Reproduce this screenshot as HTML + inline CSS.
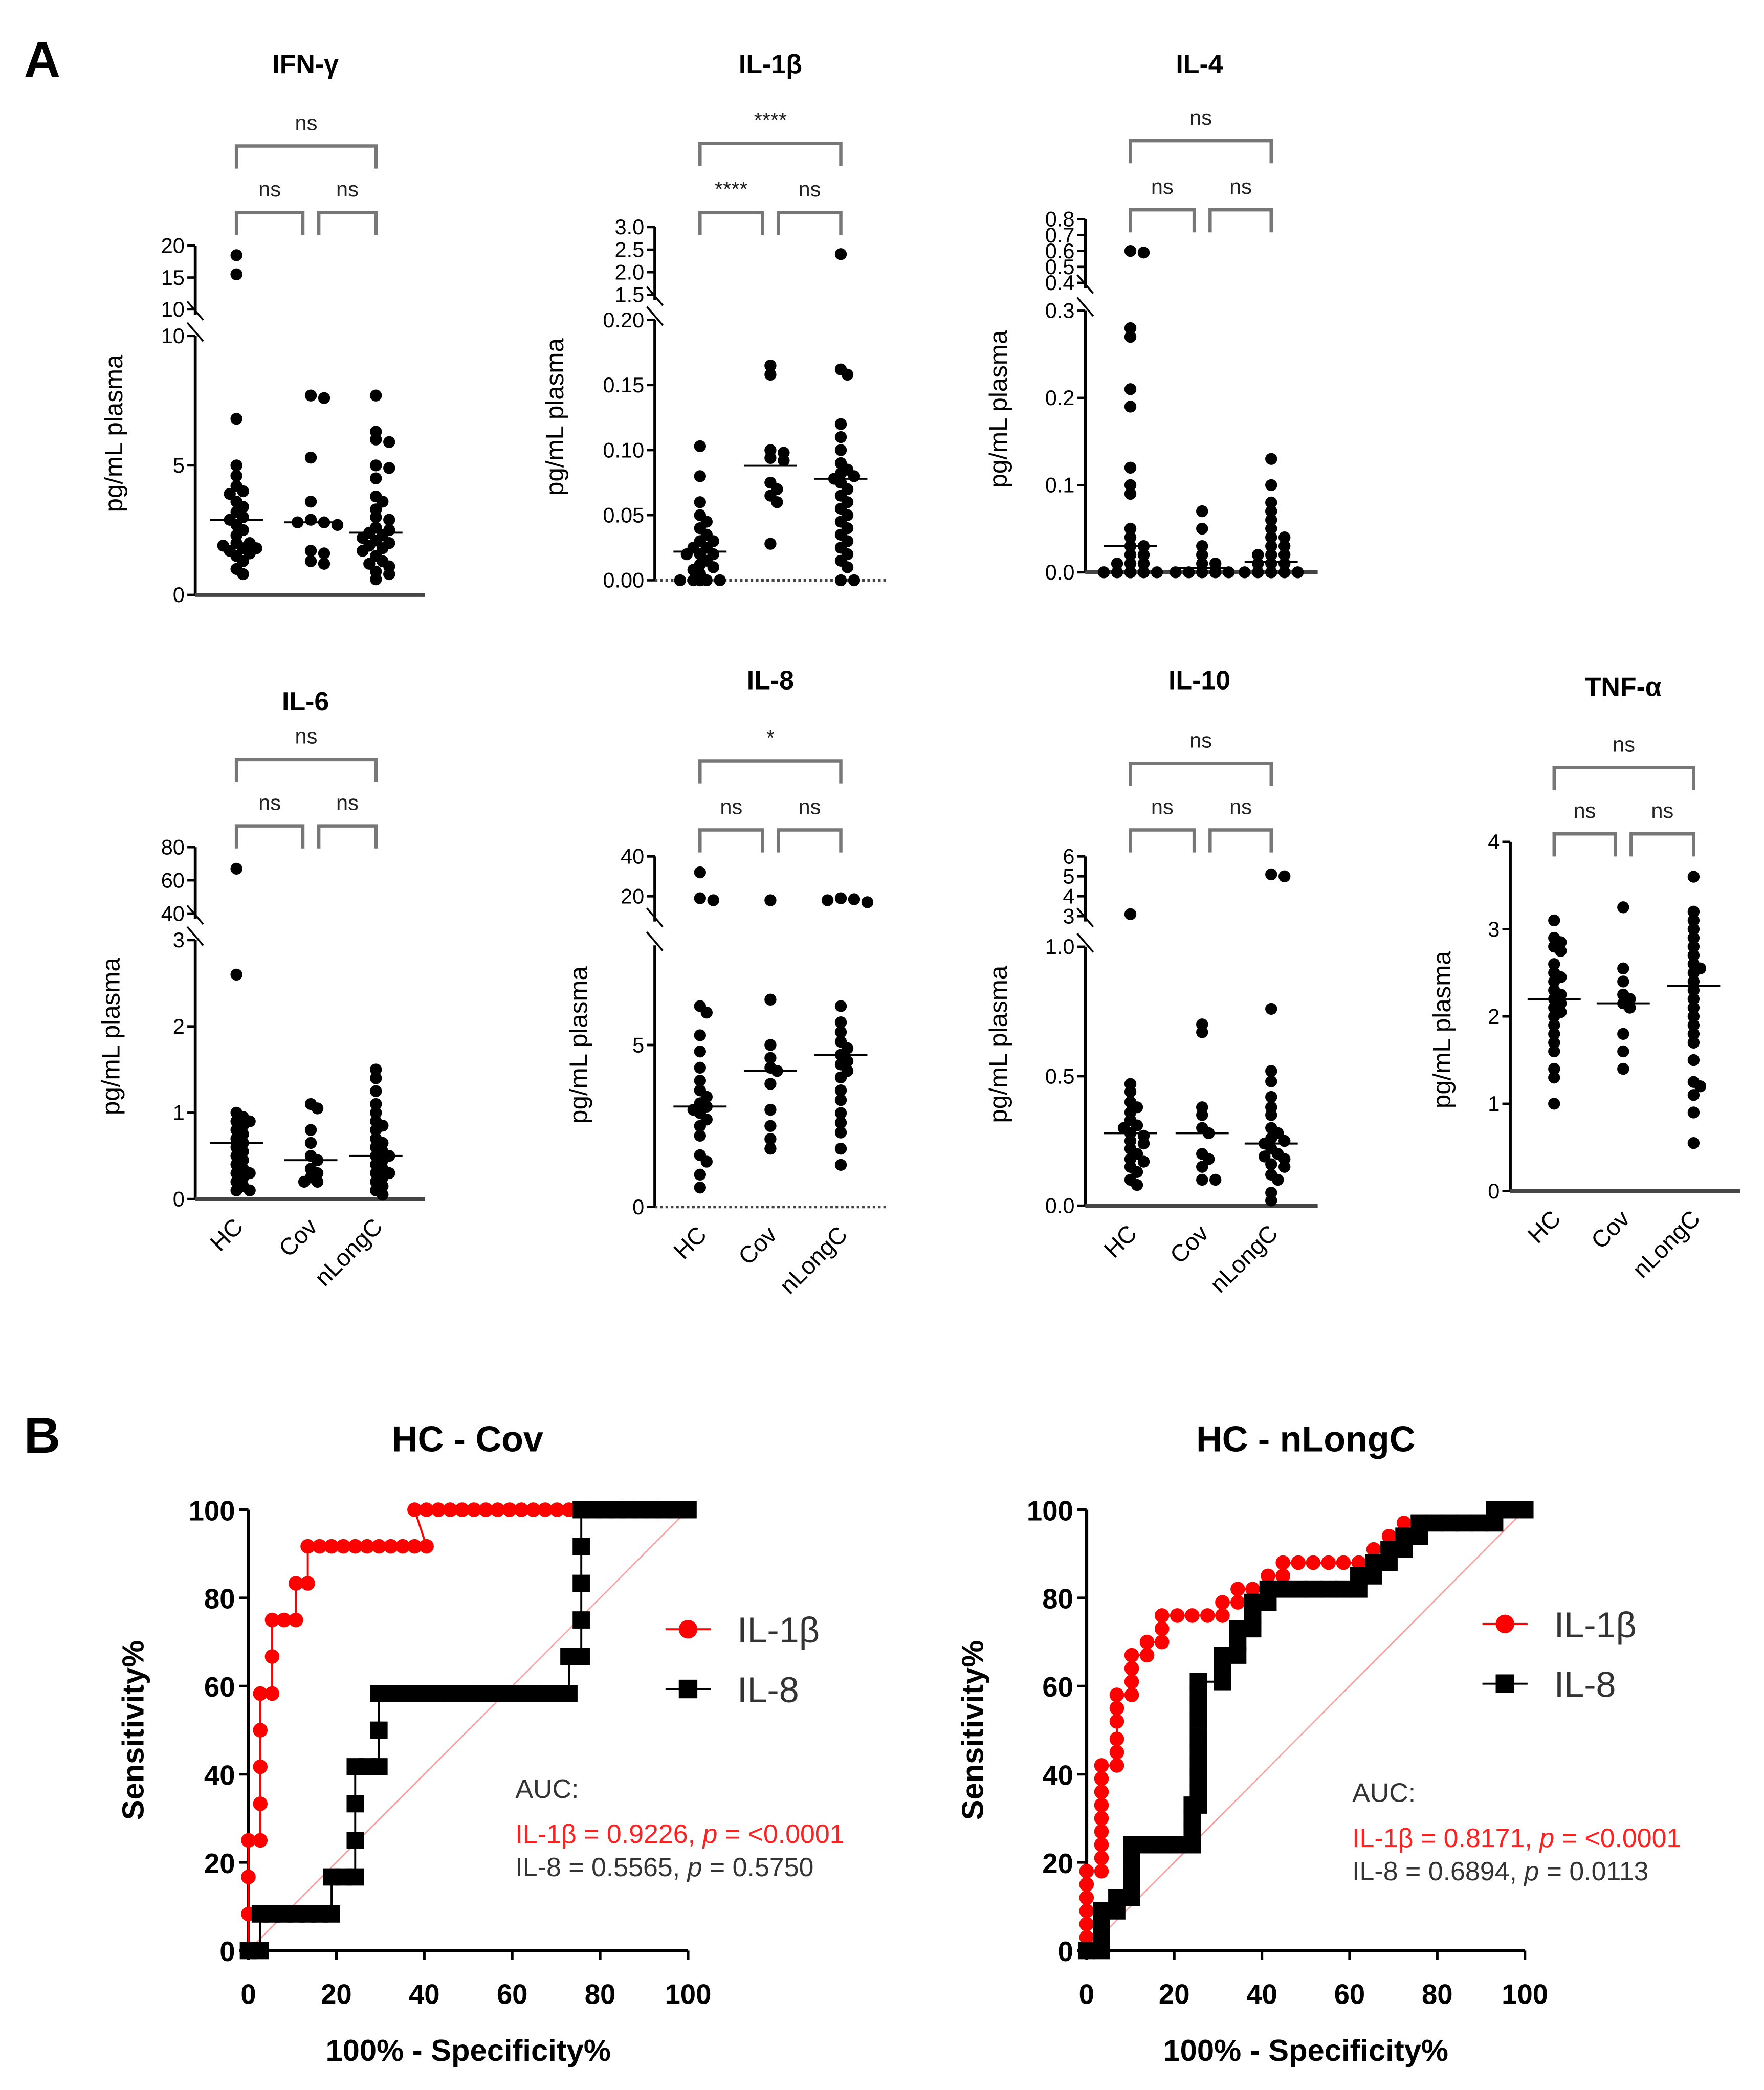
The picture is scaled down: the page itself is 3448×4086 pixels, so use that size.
<!DOCTYPE html>
<html><head><meta charset="utf-8">
<style>
html,body{margin:0;padding:0;background:#fff;}
svg{display:block;}
text{font-family:"Liberation Sans",Arial,sans-serif;}
</style></head>
<body>
<svg id="fig" xmlns="http://www.w3.org/2000/svg" width="3448" height="4086" viewBox="0 0 1328 1574" preserveAspectRatio="none">
<rect width="1328" height="1574" fill="#fff"/>
<text x="18" y="58" font-size="38" font-weight="bold">A</text>
<text x="18" y="1094" font-size="38" font-weight="bold">B</text>
</svg>
<script>
// ===== Scatter data (pg/mL) =====
const groups = ["HC","Cov","nLongC"];
const ifnHC = [18.5,15.5,6.8,5.0,4.6,4.2,4.0,3.9,3.6,3.4,3.2,3.0,2.9,2.7,2.5,2.3,2.0,2.0,1.9,1.8,1.8,1.7,1.6,1.5,1.3,1.0,0.8];
const ifnCov = [7.7,7.6,5.3,3.6,2.9,2.8,2.8,2.7,1.7,1.6,1.3,1.2];
const ifnNL = [7.7,6.3,6.0,5.9,5.0,4.9,4.5,3.8,3.6,3.3,3.0,2.9,2.6,2.5,2.4,2.3,2.2,2.1,2.0,1.9,1.8,1.7,1.5,1.3,1.2,1.1,0.9,0.8,0.6];
const ifnMed = [2.9,2.8,2.4];
const il1HC = [0.103,0.08,0.06,0.05,0.045,0.04,0.035,0.03,0.03,0.025,0.025,0.02,0.02,0.02,0.015,0.012,0.01,0.008,0.005,0,0,0,0,0,0,0];
const il1Cov = [0.165,0.158,0.10,0.098,0.094,0.092,0.075,0.07,0.065,0.06,0.028];
const il1NL = [2.4,0.162,0.158,0.12,0.11,0.10,0.09,0.085,0.082,0.08,0.078,0.075,0.07,0.065,0.06,0.055,0.05,0.045,0.04,0.035,0.03,0.025,0.02,0.015,0.01,0,0];
const il1Med = [0.022,0.088,0.078];
const il4HC = [0.6,0.59,0.28,0.27,0.21,0.19,0.12,0.1,0.09,0.05,0.04,0.03,0.03,0.02,0.02,0.01,0.01,0.01,0,0,0,0,0,0,0];
const il4Cov = [0.07,0.05,0.03,0.02,0.01,0.01,0,0,0,0,0];
const il4NL = [0.13,0.1,0.08,0.07,0.06,0.05,0.04,0.04,0.03,0.03,0.02,0.02,0.02,0.01,0.01,0.01,0,0,0,0,0,0];
const il4Med = [0.03,0.005,0.012];
const il6HC = [67,2.6,1.0,0.95,0.9,0.9,0.85,0.8,0.75,0.7,0.65,0.6,0.55,0.5,0.45,0.4,0.35,0.3,0.3,0.25,0.2,0.15,0.1,0.1];
const il6Cov = [1.1,1.05,0.8,0.65,0.5,0.45,0.35,0.3,0.25,0.2,0.2];
const il6NL = [1.5,1.4,1.25,1.1,1.0,0.9,0.85,0.8,0.7,0.65,0.6,0.55,0.5,0.5,0.45,0.4,0.35,0.3,0.3,0.25,0.2,0.15,0.1,0.05];
const il6Med = [0.65,0.45,0.5];
const il8HC = [32,19,18,6.2,6.0,5.3,4.8,4.3,3.9,3.6,3.4,3.2,3.1,3.0,2.9,2.7,2.5,2.2,1.6,1.4,1.0,0.6];
const il8Cov = [18,6.4,5.0,4.6,4.3,4.2,3.8,3.0,2.5,2.1,1.8];
const il8NL = [19,18.5,18,17,6.2,5.7,5.4,5.1,4.9,4.7,4.5,4.4,4.2,4.0,3.6,3.3,2.9,2.6,2.3,1.8,1.3];
const il8Med = [3.1,4.2,4.7];
const il10HC = [3.1,0.47,0.44,0.4,0.38,0.36,0.33,0.31,0.3,0.28,0.27,0.25,0.24,0.22,0.2,0.18,0.17,0.15,0.13,0.1,0.08];
const il10Cov = [0.7,0.67,0.38,0.35,0.3,0.28,0.2,0.18,0.15,0.1,0.1];
const il10NL = [5.1,5.0,0.76,0.52,0.48,0.42,0.38,0.35,0.3,0.28,0.26,0.25,0.24,0.22,0.2,0.19,0.18,0.16,0.15,0.12,0.1,0.05,0.02];
const il10Med = [0.28,0.28,0.24];
const tnfHC = [3.1,2.9,2.85,2.8,2.75,2.6,2.5,2.45,2.4,2.3,2.25,2.2,2.15,2.1,2.05,2.0,1.9,1.8,1.7,1.6,1.4,1.3,1.0];
const tnfCov = [3.25,2.55,2.4,2.25,2.2,2.15,2.1,1.8,1.6,1.4];
const tnfNL = [3.6,3.2,3.1,3.0,2.9,2.8,2.7,2.6,2.55,2.5,2.4,2.3,2.2,2.1,2.0,1.9,1.8,1.7,1.5,1.25,1.2,1.1,0.9,0.55];
const tnfMed = [2.2,2.15,2.35];
// tick labels
const ifnTicksLo = ["0","5","10"], ifnTicksHi = ["10","15","20"];
const il1TicksLo = ["0.00","0.05","0.10","0.15","0.20"], il1TicksHi = ["1.5","2.0","2.5","3.0"];
const il4TicksLo = ["0.0","0.1","0.2","0.3"], il4TicksHi = ["0.4","0.5","0.6","0.7","0.8"];
const il6TicksLo = ["0","1","2","3"], il6TicksHi = ["40","60","80"];
const il8TicksLo = ["0","5"], il8TicksHi = ["20","40"];
const il10TicksLo = ["0.0","0.5","1.0"], il10TicksHi = ["3","4","5","6"];
const tnfTicks = ["0","1","2","3","4"];
const sigTop = ["ns","****","ns","ns","*","ns","ns"];
const sigL = ["ns","****","ns","ns","ns","ns","ns"];
const sigR = ["ns","ns","ns","ns","ns","ns","ns"];

// ===== ROC data =====
const rocCovIL1x = [0,0,0,0,2.7,2.7,2.7,2.7,2.7,5.4,5.4,5.4,8.1,10.8,10.8,13.5,13.5,16.2,18.9,21.6,24.3,27,29.7,32.4,35.1,37.8,40.5,37.8,40.5,43.2,45.9,48.6,51.3,54,56.7,59.4,62.1,64.8,67.5,70.2,72.9];
const rocCovIL1y = [0,8.3,16.7,25,25,33.3,41.7,50,58.3,58.3,66.7,75,75,75,83.3,83.3,91.7,91.7,91.7,91.7,91.7,91.7,91.7,91.7,91.7,91.7,91.7,100,100,100,100,100,100,100,100,100,100,100,100,100,100];
const rocCovIL8x = [0,2.7,2.7,5.4,8.1,10.8,13.5,16.2,18.9,18.9,21.6,24.3,24.3,24.3,24.3,27,29.7,29.7,29.7,32.4,35.1,37.8,40.5,43.2,45.9,48.6,51.3,54,56.7,59.4,62.1,64.8,67.5,70.2,72.9,72.9,75.7,75.7,75.7,75.7,75.7,78.4,81.1,83.8,86.5,89.2,91.9,94.6,97.3,100];
const rocCovIL8y = [0,0,8.3,8.3,8.3,8.3,8.3,8.3,8.3,16.7,16.7,16.7,25,33.3,41.7,41.7,41.7,50,58.3,58.3,58.3,58.3,58.3,58.3,58.3,58.3,58.3,58.3,58.3,58.3,58.3,58.3,58.3,58.3,58.3,66.7,66.7,75,83.3,91.7,100,100,100,100,100,100,100,100,100,100];
const rocNLIL1x = [0,0,0,0,0,0,0,3.4,3.4,3.4,3.4,3.4,3.4,3.4,3.4,3.4,6.9,6.9,6.9,6.9,6.9,6.9,10.3,10.3,10.3,10.3,13.8,13.8,17.2,17.2,17.2,20.7,24.1,27.6,31,31,34.5,34.5,37.9,41.4,41.4,44.8,44.8,48.3,51.7,55.2,58.6,62.1,65.5,65.5,69,69,72.4,72.4,75.9,79.3,82.8,86.2,89.7,93.1,93.1,96.6,100];
const rocNLIL1y = [0,3,6,9,12,15,18,18,21,24,27,30,33,36,39,42,42,45,48,52,55,58,58,61,64,67,67,70,70,73,76,76,76,76,76,79,79,82,82,82,85,85,88,88,88,88,88,88,88,91,91,94,94,97,97,97,97,97,97,97,100,100,100];
const rocNLIL8x = [0,3.4,3.4,3.4,3.4,6.9,6.9,10.3,10.3,10.3,10.3,10.3,13.8,17.2,20.7,24.1,24.1,24.1,24.1,25.5,25.5,25.5,25.5,25.5,25.5,25.5,25.5,25.5,25.5,31,31,31,34.5,34.5,34.5,37.9,37.9,37.9,41.4,41.4,44.8,48.3,51.7,55.2,58.6,62.1,62.1,65.5,65.5,69,69,72.4,72.4,75.9,75.9,79.3,82.8,86.2,89.7,93.1,93.1,96.6,100];
const rocNLIL8y = [0,0,3,6,9,9,12,12,15,18,21,24,24,24,24,24,27,30,33,33,36,39,42,45,48,52,55,58,61,61,64,67,67,70,73,73,76,79,79,82,82,82,82,82,82,82,85,85,88,88,91,91,94,94,97,97,97,97,97,97,100,100,100];
const xTicksRoc = [0,20,40,60,80,100];
const yTicksRoc = [0,20,40,60,80,100];

const NS = "http://www.w3.org/2000/svg";
const svg = document.getElementById('fig');
function el(tag, attrs, parent, txt){
  const e = document.createElementNS(NS, tag);
  for (const k in attrs) e.setAttribute(k, attrs[k]);
  if (txt !== undefined) e.textContent = txt;
  (parent||svg).appendChild(e);
  return e;
}

// layout specs (positions only)
const panels = [
 {title:"IFN-γ", tx:230, ty:55, ax:147, axEnd:320, gx:[178,234,283], lo:[0,448,10,253], hi:[10,233,20,185], br:10,
  data:[ifnHC,ifnCov,ifnNL], med:ifnMed, tLo:ifnTicksLo, tLoV:[0,5,10], tHi:ifnTicksHi, tHiV:[10,15,20], ylx:92, bt:110, bl:160, xl:false},
 {title:"IL-1β", tx:580, ty:55, ax:493, axEnd:668, gx:[527,580,633], lo:[0,437,0.2,241], hi:[1.5,222,3.0,171], br:0.2,
  data:[il1HC,il1Cov,il1NL], med:il1Med, tLo:il1TicksLo, tLoV:[0,0.05,0.1,0.15,0.2], tHi:il1TicksHi, tHiV:[1.5,2,2.5,3], ylx:424, bt:108, bl:160, xl:false, dotted:true},
 {title:"IL-4", tx:903, ty:55, ax:817, axEnd:992, gx:[851,905,957], lo:[0,431,0.3,234], hi:[0.4,213,0.8,165], br:0.35,
  data:[il4HC,il4Cov,il4NL], med:il4Med, tLo:il4TicksLo, tLoV:[0,0.1,0.2,0.3], tHi:il4TicksHi, tHiV:[0.4,0.5,0.6,0.7,0.8], ylx:758, bt:106, bl:158, xl:false},
 {title:"IL-6", tx:230, ty:535, ax:147, axEnd:320, gx:[178,234,283], lo:[0,903,3,708], hi:[40,688,80,638], br:3,
  data:[il6HC,il6Cov,il6NL], med:il6Med, tLo:il6TicksLo, tLoV:[0,1,2,3], tHi:il6TicksHi, tHiV:[40,60,80], ylx:90, bt:572, bl:622, xl:true},
 {title:"IL-8", tx:580, ty:519, ax:493, axEnd:668, gx:[527,580,633], lo:[0,909,5,787], hi:[10,690,40,645], loTop:712, br:8,
  data:[il8HC,il8Cov,il8NL], med:il8Med, tLo:il8TicksLo, tLoV:[0,5], tHi:il8TicksHi, tHiV:[20,40], ylx:442, bt:573, bl:625, xl:true, dotted:true},
 {title:"IL-10", tx:903, ty:519, ax:817, axEnd:992, gx:[851,905,957], lo:[0,908,1.0,713], hi:[3,690,6,645], br:2,
  data:[il10HC,il10Cov,il10NL], med:il10Med, tLo:il10TicksLo, tLoV:[0,0.5,1.0], tHi:il10TicksHi, tHiV:[3,4,5,6], ylx:758, bt:575, bl:625, xl:true},
 {title:"TNF-α", tx:1222, ty:524, ax:1137, axEnd:1310, gx:[1170,1222,1275], lo:[0,897,4,634], hi:null, br:99,
  data:[tnfHC,tnfCov,tnfNL], med:tnfMed, tLo:tnfTicks, tLoV:[0,1,2,3,4], tHi:[], tHiV:[], ylx:1092, bt:578, bl:628, xl:true}
];

panels.forEach((p, pi) => {
  const g = el('g', {});
  
  
  const ys = v => {
    if (!p.hi || v <= p.br) { const [a,ya,b,yb] = p.lo; return ya + (v-a)*(yb-ya)/(b-a); }
    const [a,ya,b,yb] = p.hi; return ya + (v-a)*(yb-ya)/(b-a);
  };
  const yLoTop = p.loTop !== undefined ? p.loTop : p.lo[3];
  const t = el('text', {x:p.tx, y:p.ty, 'font-size':20, 'font-weight':'bold', 'text-anchor':'middle'}, g, p.title);
  
  
  const yTop = p.hi ? p.hi[3] : p.lo[3];
  if (p.hi) {
    el('line', {x1:p.ax, y1:p.lo[1], x2:p.ax, y2:yLoTop, stroke:'#000', 'stroke-width':2.2}, g);
    el('line', {x1:p.ax, y1:p.hi[1]+4, x2:p.ax, y2:p.hi[3], stroke:'#000', 'stroke-width':2.2}, g);
    el('line', {x1:p.ax-6, y1:yLoTop-10, x2:p.ax+6, y2:yLoTop+4, stroke:'#000', 'stroke-width':1.4}, g);
    el('line', {x1:p.ax-6, y1:p.hi[1]-6, x2:p.ax+6, y2:p.hi[1]+8, stroke:'#000', 'stroke-width':1.4}, g);
  } else {
    el('line', {x1:p.ax, y1:p.lo[1], x2:p.ax, y2:yTop, stroke:'#000', 'stroke-width':2.2}, g);
  }
  const xa = el('line', {x1:p.ax, y1:p.lo[1], x2:p.axEnd, y2:p.lo[1], stroke:'#444', 'stroke-width':p.dotted?2:3, 'stroke-dasharray':p.dotted?'2,2':'none'}, g);
  
  
  p.tLoV.forEach((v,i) => {
    const y = ys(Math.min(v, p.br));
    el('line', {x1:p.ax-6, y1:y, x2:p.ax, y2:y, stroke:'#000', 'stroke-width':1.8}, g);
    el('text', {x:p.ax-8, y:y+5.5, 'font-size':16, 'text-anchor':'end'}, g, p.tLo[i]);
  });
  p.tHiV.forEach((v,i) => {
    const [a,ya,b,yb] = p.hi; const y = ya + (v-a)*(yb-ya)/(b-a);
    el('line', {x1:p.ax-6, y1:y, x2:p.ax, y2:y, stroke:'#000', 'stroke-width':1.8}, g);
    el('text', {x:p.ax-8, y:y+5.5, 'font-size':16, 'text-anchor':'end'}, g, p.tHi[i]);
  });
  const ymid = (p.lo[1] + yTop) / 2 + 10;
  const yt = el('text', {x:p.ylx, y:ymid, 'font-size':19, 'text-anchor':'middle', transform:`rotate(-90 ${p.ylx} ${ymid})`}, g, 'pg/mL plasma');
  
  
  if (p.xl) {
    groups.forEach((gn, i) => {
      const x = p.gx[i] + 6, y = p.lo[1] + 22;
      el('text', {x:x, y:y, 'font-size':18, 'text-anchor':'end', transform:`rotate(-45 ${x} ${y})`}, g, gn);
    });
  }
  const bc = '#777';
  const gx = p.gx;
  const br = (x1,x2,y,lbl,name) => {
    const b = el('path', {d:`M${x1},${y+17} V${y} H${x2} V${y+17}`, fill:'none', stroke:bc, 'stroke-width':2.5}, g);
    
    
    el('text', {x:(x1+x2)/2, y:y-12, 'font-size':16, 'text-anchor':'middle', fill:'#222'}, g, lbl);
  };
  br(gx[0], gx[2], p.bt, sigTop[pi], 'bracket-hc-nlongc');
  br(gx[0], gx[1]-6, p.bl, sigL[pi], 'bracket-hc-cov');
  br(gx[1]+6, gx[2], p.bl, sigR[pi], 'bracket-cov-nlongc');
  p.data.forEach((arr, gi) => {
    const placed = [];
    arr.forEach(v => {
      const y = ys(v);
      const offs = [0,5,-5,10,-10,15,-15,20,-20];
      let ox = 0;
      for (const o of offs) {
        if (placed.every(q => Math.hypot(q[0]-o, q[1]-y) >= 5.5)) { ox = o; break; }
      }
      placed.push([ox, y]);
      const c = el('circle', {cx:gx[gi]+ox, cy:y, r:4.5, fill:'#000'}, g);
      
      
    });
    const my = ys(p.med[gi]);
    const m = el('line', {x1:gx[gi]-20, y1:my, x2:gx[gi]+20, y2:my, stroke:'#000', 'stroke-width':1.5}, g);
    
    
  });
});

// ===== ROC panels =====
const rocs = [
 {title:"HC - Cov", x0:187, x1:518, y0:1469, y1:1137, tx:352, red:[rocCovIL1x,rocCovIL1y], blk:[rocCovIL8x,rocCovIL8y], lx:518, ly:1227, ax:388, ay:1347,
  auc1:"IL-1β = 0.9226, ", p1:"<0.0001", auc2:"IL-8 = 0.5565, ", p2:"0.5750", ylx:108},
 {title:"HC - nLongC", x0:818, x1:1148, y0:1469, y1:1137, tx:983, red:[rocNLIL1x,rocNLIL1y], blk:[rocNLIL8x,rocNLIL8y], lx:1133, ly:1223, ax:1018, ay:1350,
  auc1:"IL-1β = 0.8171, ", p1:"<0.0001", auc2:"IL-8 = 0.6894, ", p2:"0.0113", ylx:740}
];
rocs.forEach((r, ri) => {
  const g = el('g', {});
  
  
  const X = v => r.x0 + v*(r.x1-r.x0)/100;
  const Y = v => r.y0 + v*(r.y1-r.y0)/100;
  const t = el('text', {x:r.tx, y:1093, 'font-size':27, 'font-weight':'bold', 'text-anchor':'middle'}, g, r.title);
  
  
  el('line', {x1:X(0), y1:Y(0), x2:X(100), y2:Y(100), stroke:'#ff9999', 'stroke-width':1}, g);
  el('line', {x1:X(0), y1:Y(0), x2:X(0), y2:Y(100), stroke:'#000', 'stroke-width':2.5}, g);
  el('line', {x1:X(0), y1:Y(0), x2:X(100), y2:Y(0), stroke:'#000', 'stroke-width':2.5}, g);
  xTicksRoc.forEach(v => {
    el('line', {x1:X(v), y1:Y(0), x2:X(v), y2:Y(0)+7, stroke:'#000', 'stroke-width':2}, g);
    el('text', {x:X(v), y:Y(0)+40, 'font-size':21, 'font-weight':'bold', 'text-anchor':'middle'}, g, String(v));
  });
  yTicksRoc.forEach(v => {
    el('line', {x1:X(0)-7, y1:Y(v), x2:X(0), y2:Y(v), stroke:'#000', 'stroke-width':2}, g);
    el('text', {x:X(0)-10, y:Y(v)+8, 'font-size':21, 'font-weight':'bold', 'text-anchor':'end'}, g, String(v));
  });
  const xt = el('text', {x:(r.x0+r.x1)/2, y:1552, 'font-size':23, 'font-weight':'bold', 'text-anchor':'middle'}, g, '100% - Specificity%');
  
  
  const ym = (r.y0+r.y1)/2;
  const yt = el('text', {x:r.ylx, y:ym, 'font-size':23, 'font-weight':'bold', 'text-anchor':'middle', transform:`rotate(-90 ${r.ylx} ${ym})`}, g, 'Sensitivity%');
  
  
  const series = [[r.red, '#ff0000', 'circle', 'il-1b'], [r.blk, '#000', 'square', 'il-8']];
  series.forEach(([d, col, shape, nm]) => {
    const [xs, ysr] = d;
    let path = '';
    xs.forEach((v,i) => { path += (i?'L':'M') + X(v).toFixed(1) + ',' + Y(ysr[i]).toFixed(1); });
    const ln = el('path', {d:path, fill:'none', stroke:col, 'stroke-width':1.5}, g);
    
    
    xs.forEach((v,i) => {
      let m;
      if (shape === 'circle') m = el('circle', {cx:X(v), cy:Y(ysr[i]), r:5.5, fill:col}, g);
      else m = el('rect', {x:X(v)-6.5, y:Y(ysr[i])-6.5, width:13, height:13, fill:col}, g);
      
      
    });
  });
  const lg = el('g', {}, g);
  
  
  el('line', {x1:r.lx-17, y1:r.ly, x2:r.lx+17, y2:r.ly, stroke:'#ff0000', 'stroke-width':1.5}, lg);
  el('circle', {cx:r.lx, cy:r.ly, r:7, fill:'#ff0000'}, lg);
  el('text', {x:r.lx+37, y:r.ly+10, 'font-size':27, fill:'#333'}, lg, 'IL-1β');
  el('line', {x1:r.lx-17, y1:r.ly+45, x2:r.lx+17, y2:r.ly+45, stroke:'#000', 'stroke-width':1.5}, lg);
  el('rect', {x:r.lx-7, y:r.ly+38, width:14, height:14, fill:'#000'}, lg);
  el('text', {x:r.lx+37, y:r.ly+55, 'font-size':27, fill:'#333'}, lg, 'IL-8');
  el('text', {x:r.ax, y:r.ay+7, 'font-size':20, fill:'#333'}, g, 'AUC:');
  const a1 = el('text', {x:r.ax, y:r.ay+41, 'font-size':20, fill:'#ff2020'}, g);
  
  
  el('tspan', {}, a1, r.auc1); el('tspan', {'font-style':'italic'}, a1, 'p'); el('tspan', {}, a1, ' = ' + r.p1);
  const a2 = el('text', {x:r.ax, y:r.ay+66, 'font-size':20, fill:'#333'}, g);
  
  
  el('tspan', {}, a2, r.auc2); el('tspan', {'font-style':'italic'}, a2, 'p'); el('tspan', {}, a2, ' = ' + r.p2);
});
</script>
</body></html>
